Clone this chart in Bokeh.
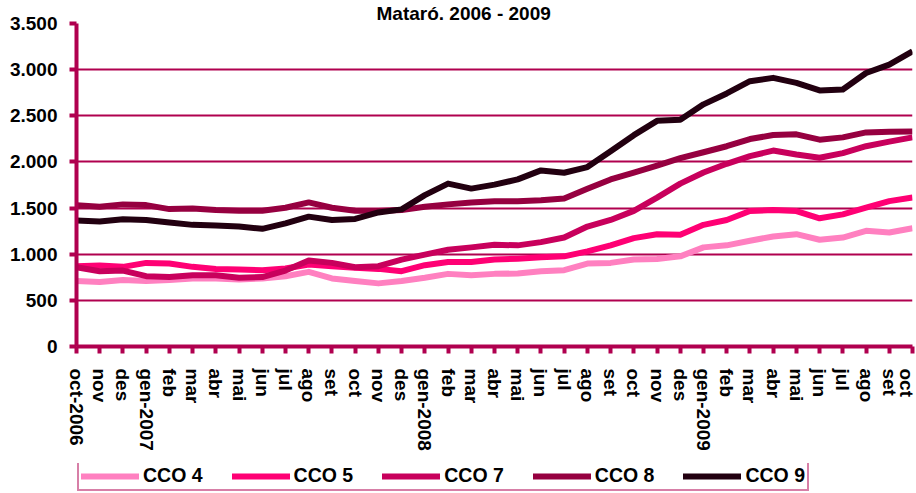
from bokeh.plotting import figure
from bokeh.layouts import column
from bokeh.models import FixedTicker, Legend, LegendItem, Range1d
from bokeh.embed import file_html
from bokeh.resources import INLINE

months = ["oct-2006", "nov", "des", "gen-2007", "feb", "mar", "abr", "mai", "jun", "jul",
          "ago", "set", "oct", "nov", "des", "gen-2008", "feb", "mar", "abr", "mai", "jun",
          "jul", "ago", "set", "oct", "nov", "des", "gen-2009", "feb", "mar", "abr", "mai",
          "jun", "jul", "ago", "set", "oct"]

cco4 = [709, 698, 720, 709, 720, 737, 737, 727, 737, 762, 809, 737, 709, 684, 709, 745, 787,
        773, 787, 791, 816, 827, 899, 906, 942, 949, 977, 1074, 1096, 1146, 1192, 1217, 1157,
        1181, 1253, 1235, 1282]
cco5 = [870, 877, 863, 906, 899, 863, 841, 834, 827, 845, 888, 870, 852, 841, 816, 881, 916,
        916, 942, 952, 967, 977, 1031, 1096, 1174, 1217, 1210, 1318, 1371, 1468, 1478, 1468,
        1389, 1432, 1504, 1575, 1614]
cco7 = [859, 816, 823, 762, 752, 773, 773, 745, 752, 823, 931, 906, 859, 870, 942, 995, 1049,
        1074, 1103, 1096, 1131, 1181, 1300, 1371, 1470, 1613, 1765, 1885, 1980, 2062, 2123,
        2080, 2045, 2095, 2170, 2220, 2266]
cco8 = [1532, 1514, 1540, 1532, 1489, 1496, 1478, 1471, 1471, 1504, 1561, 1504, 1471, 1468,
        1478, 1514, 1540, 1561, 1575, 1575, 1586, 1604, 1710, 1810, 1885, 1961, 2041, 2105,
        2170, 2248, 2291, 2299, 2241, 2266, 2320, 2327, 2330]
cco9 = [1365, 1355, 1378, 1371, 1343, 1318, 1310, 1300, 1275, 1335, 1407, 1371, 1382, 1453,
        1486, 1640, 1765, 1711, 1754, 1811, 1908, 1883, 1944, 2115, 2290, 2445, 2456, 2624,
        2742, 2875, 2911, 2857, 2775, 2785, 2964, 3054, 3198]

series_names = ["CCO 4", "CCO 5", "CCO 7", "CCO 8", "CCO 9"]
series_colors = ["#FF80C0", "#FF0074", "#C8005C", "#960040", "#220010"]
series_values = [cco4, cco5, cco7, cco8, cco9]

y_ticks = [0, 500, 1000, 1500, 2000, 2500, 3000, 3500]
y_labels = ["0", "500", "1.000", "1.500", "2.000", "2.500", "3.000", "3.500"]

title_text = "Mataró. 2006 - 2009"

AXIS = "#B0004F"
FONT = "Liberation Sans"

x = list(range(len(months)))

p = figure(width=916, height=463, output_backend="svg", toolbar_location=None,
           x_range=Range1d(0, len(months) - 1), y_range=Range1d(0, 3500),
           min_border_left=76, min_border_right=4, min_border_top=20, min_border_bottom=117)
p.outline_line_color = None
p.background_fill_color = "white"
p.border_fill_color = "white"

p.title.text = title_text
p.title.text_font = FONT
p.title.text_font_style = "bold"
p.title.text_font_size = "19px"
p.title.text_line_height = 1.0
p.title.text_color = "black"
p.title.align = "left"
p.title.offset = 300
p.title.standoff = 0

for name, col, vals in zip(series_names, series_colors, series_values):
    p.line(x, vals, line_color=col, line_width=6, line_join="round")

# axes
p.xaxis.ticker = FixedTicker(ticks=x)
p.xaxis.major_label_overrides = {i: m for i, m in enumerate(months)}
p.xaxis.major_label_orientation = "vertical"
p.yaxis.ticker = FixedTicker(ticks=y_ticks)
p.yaxis.major_label_overrides = {t: l for t, l in zip(y_ticks, y_labels)}

for ax in (p.xaxis, p.yaxis):
    ax.axis_line_color = AXIS
    ax.axis_line_width = 4
    ax.major_tick_line_color = AXIS
    ax.major_tick_line_width = 4
    ax.major_tick_out = 7
    ax.major_tick_in = 0
    ax.minor_tick_line_color = None
    ax.major_label_text_font = FONT
    ax.major_label_text_font_style = "bold"
    ax.major_label_text_font_size = "19px"
    ax.major_label_text_color = "black"
p.yaxis.major_label_standoff = 12
p.xaxis.major_label_standoff = 15

p.xgrid.grid_line_color = None
p.ygrid.grid_line_color = AXIS
p.ygrid.grid_line_width = 2

# legend strip below the chart (renderers hidden; only used for legend swatches)
lg = figure(width=916, height=30, output_backend="svg", toolbar_location=None,
            x_range=Range1d(0, 1), y_range=Range1d(0, 1),
            x_axis_type=None, y_axis_type=None,
            min_border_left=0, min_border_right=0, min_border_top=0, min_border_bottom=0)
lg.outline_line_color = None
lg.xgrid.grid_line_color = None
lg.ygrid.grid_line_color = None
lg.background_fill_color = "white"
lg.border_fill_color = "white"

legend_renderers = []
for name, col, vals in zip(series_names, series_colors, series_values):
    legend_renderers.append(lg.line(x, vals, line_color=col, line_width=6,
                                    line_cap="round", visible=False))

legend = Legend(items=[LegendItem(label=n, renderers=[r]) for n, r in zip(series_names, legend_renderers)],
                orientation="horizontal", location=(1, 2),
                glyph_width=58, glyph_height=16, label_height=16, label_standoff=4,
                spacing=29, padding=2, margin=0,
                border_line_color=AXIS, border_line_width=2,
                background_fill_color="white", background_fill_alpha=1,
                inactive_fill_alpha=0,
                label_text_font=FONT, label_text_font_style="bold",
                label_text_font_size="19.5px", label_text_color="black")
lg.add_layout(legend, "center")

layout = column(p, lg, spacing=0)

open("out.html", "w").write(file_html(layout, INLINE))
